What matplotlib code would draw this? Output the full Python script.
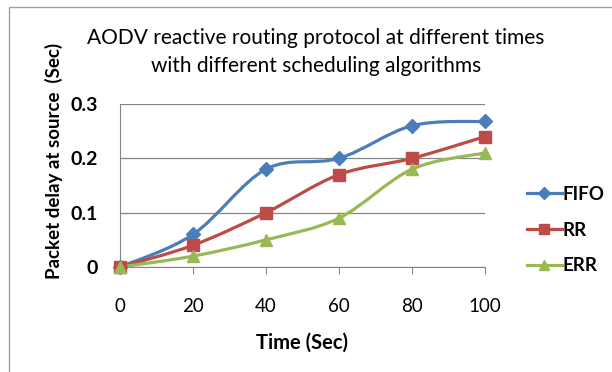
import numpy as np
import matplotlib
matplotlib.use('Agg')
import matplotlib.pyplot as plt
from matplotlib.path import Path
from matplotlib.patches import PathPatch, Rectangle
from matplotlib.lines import Line2D

plt.rcParams['font.family'] = ['Lato', 'DejaVu Sans']

# ── Data ────────────────────────────────────────────────────────────────
times = [0, 20, 40, 60, 80, 100]
fifo = [0, 0.06, 0.18, 0.2, 0.26, 0.268]
rr = [0, 0.04, 0.1, 0.17, 0.2, 0.24]
err = [0, 0.02, 0.05, 0.09, 0.18, 0.21]

series = [
    ('FIFO', fifo, '#4a7ebb', 'D', 7),
    ('RR', rr, '#be4b48', 's', 9),
    ('ERR', err, '#98b954', '^', 9),
]


def smooth_path(x, y):
    """Excel-style smoothed line as cubic Bezier segments."""
    x = np.asarray(x, float)
    y = np.asarray(y, float)
    n = len(x)
    verts = [(x[0], y[0])]
    codes = [Path.MOVETO]
    for i in range(n - 1):
        x0, y0 = (x[i - 1], y[i - 1]) if i > 0 else (x[i], y[i])
        x3, y3 = (x[i + 2], y[i + 2]) if i + 2 < n else (x[i + 1], y[i + 1])
        c1 = (x[i] + (x[i + 1] - x0) / 6, y[i] + (y[i + 1] - y0) / 6)
        c2 = (x[i + 1] - (x3 - x[i]) / 6, y[i + 1] - (y3 - y[i]) / 6)
        verts += [c1, c2, (x[i + 1], y[i + 1])]
        codes += [Path.CURVE4] * 3
    return Path(verts, codes)


fig = plt.figure(figsize=(6.12, 3.72), dpi=100)
fig.patches.append(Rectangle((9 / 612, -0.01), 1.0, 1 - 7 / 372 + 0.01,
                             transform=fig.transFigure, fill=False,
                             edgecolor='#a0a0a0', linewidth=1.0))

ax = fig.add_axes([120 / 612, 1 - 267 / 372, 365 / 612, 163 / 372])

for name, vals, color, marker, ms in series:
    ax.add_patch(PathPatch(smooth_path(times, vals), facecolor='none',
                           edgecolor=color, linewidth=2.3, zorder=3,
                           clip_on=False))
    ax.plot(times, vals, linestyle='none', marker=marker, markersize=ms,
            color=color, zorder=4, clip_on=False)

ax.set_xlim(0, 100)
ax.set_ylim(0, 0.3)
ax.set_xticks(times)
ax.set_xticklabels([str(t) for t in times], fontsize=13.5)
ax.set_yticks([0, 0.1, 0.2, 0.3])
ax.set_yticklabels(['0', '0.1', '0.2', '0.3'], fontsize=14, fontweight='bold')
ax.tick_params(axis='x', length=5, color='#868686', pad=17)
ax.tick_params(axis='y', length=0, pad=16)
ax.yaxis.grid(True, color='#868686', linewidth=0.9)
ax.set_axisbelow(True)
for s in ['top', 'right']:
    ax.spines[s].set_visible(False)
ax.spines['left'].set_color('#868686')
ax.spines['bottom'].set_color('#868686')

ax.set_xlabel('Time (Sec)', fontsize=14.5, fontweight='bold', labelpad=13)
fig.text(54 / 612, 1 - 161 / 372, 'Packet delay at source  (Sec)',
         rotation=90, ha='center', va='center', fontsize=13.5,
         fontweight='bold')
fig.text(316 / 612, 1 - 52 / 372,
         'AODV reactive routing protocol at different times\nwith different scheduling algorithms',
         ha='center', va='center', fontsize=15, linespacing=1.55)

handles = [Line2D([], [], color=c, marker=m, markersize=ms * 0.85,
                  linewidth=2.3)
           for _, _, c, m, ms in series]
fig.legend(handles, [s[0] for s in series], loc='center left',
           bbox_to_anchor=(527 / 612, 1 - 230 / 372), frameon=False,
           borderpad=0, borderaxespad=0,
           prop={'weight': 'bold', 'size': 13.5}, handlelength=1.85,
           handletextpad=0.05, labelspacing=1.0)

plt.savefig('out.png', dpi=100)
